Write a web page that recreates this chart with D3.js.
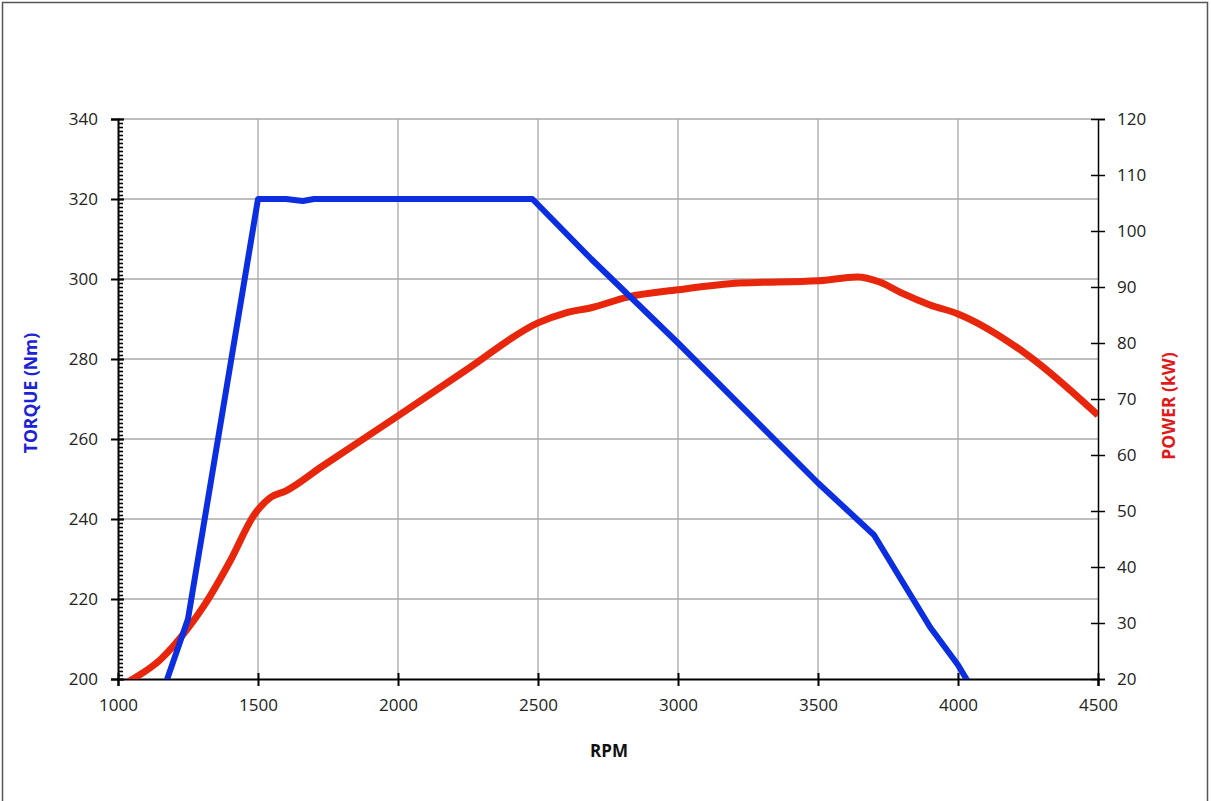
<!DOCTYPE html>
<html><head><meta charset="utf-8">
<script src="https://cdn.jsdelivr.net/npm/d3@7"></script>
<style>body{margin:0;background:#fff}svg{display:block}</style>
</head><body>
<svg id="c" width="1211" height="801"></svg>
<script>
const torqueRpm = [1150, 1250, 1500, 1600, 1660, 1700, 2000, 2480, 2690, 3000, 3500, 3700, 3900, 4000, 4030, 4060];
const torqueNm  = [194.8, 215, 320, 320, 319.5, 320, 320, 320, 305, 284, 249, 236, 213, 203.5, 200, 196.5];
const powerRpm = [1000, 1054, 1150, 1246, 1306, 1403, 1486, 1547, 1600, 1727, 2000, 2250, 2500, 2600, 2690, 2820, 3000, 3220, 3500, 3640, 3720, 3800, 3900, 4000, 4250, 4500];
const powerKw  = [18.4, 20, 23.4, 28.8, 33.0, 41.3, 49.3, 52.5, 53.6, 57.9, 67.0, 75.4, 83.6, 85.4, 86.3, 88.2, 89.5, 90.7, 91.1, 91.8, 90.9, 88.9, 86.8, 85.2, 77.8, 67.1];
const xTicks = [1000, 1500, 2000, 2500, 3000, 3500, 4000, 4500];
const yLeftTicks = [200, 220, 240, 260, 280, 300, 320, 340];
const yRightTicks = [20, 30, 40, 50, 60, 70, 80, 90, 100, 110, 120];

const svg = d3.select("#c");
const L = 118, R = 1098, T = 119, B = 679;
const x = d3.scaleLinear().domain([1000, 4500]).range([L, R]);
const yL = d3.scaleLinear().domain([200, 340]).range([B, T]);
const yR = d3.scaleLinear().domain([20, 120]).range([B, T]);
const font = "'Open Sans', 'Liberation Sans', sans-serif";

// outer frame
svg.append("rect").attr("x", 2.5).attr("y", 2.5).attr("width", 1205).attr("height", 805)
  .attr("fill", "none").attr("stroke", "#555").attr("stroke-width", 1.5);

// gridlines
const grid = svg.append("g").attr("stroke", "#a8a8a8").attr("stroke-width", 1.3);
xTicks.slice(1, -1).forEach(v => grid.append("line").attr("x1", x(v)).attr("x2", x(v)).attr("y1", T).attr("y2", B));
yLeftTicks.slice(1).forEach(v => grid.append("line").attr("x1", L).attr("x2", R).attr("y1", yL(v)).attr("y2", yL(v)));

// clip
svg.append("clipPath").attr("id", "clip").append("rect").attr("x", L).attr("y", T - 5).attr("width", R - L).attr("height", B - T + 5);

// axes
const gx = svg.append("g").attr("transform", `translate(0,${B})`)
  .call(d3.axisBottom(x).tickValues(xTicks).tickSize(7).tickPadding(13).tickFormat(d3.format("d")));
gx.select(".domain").attr("stroke-width", 2);
gx.selectAll(".tick line").attr("y1", -6).attr("y2", 7).attr("stroke-width", 2);

const gyMinor = svg.append("g").attr("transform", `translate(${L},0)`)
  .call(d3.axisRight(yL).tickValues(d3.range(200, 341, 1)).tickSize(5).tickFormat(""));
gyMinor.select(".domain").remove();
gyMinor.selectAll(".tick line").attr("stroke-width", 1.6);

const gyl = svg.append("g").attr("transform", `translate(${L},0)`)
  .call(d3.axisLeft(yL).tickValues(yLeftTicks).tickSize(7).tickPadding(13));
gyl.select(".domain").attr("stroke-width", 2);
gyl.selectAll(".tick line").attr("x1", 6).attr("stroke-width", 2);

const gyr = svg.append("g").attr("transform", `translate(${R},0)`)
  .call(d3.axisRight(yR).tickValues(yRightTicks).tickSize(7).tickPadding(12));
gyr.select(".domain").attr("stroke-width", 1.5);
gyr.selectAll(".tick line").attr("x1", -7).attr("stroke-width", 1.5);

svg.selectAll(".tick text").attr("font-family", font).attr("font-size", 17).attr("fill", "#222");
svg.selectAll(".domain").attr("stroke", "#000");
svg.selectAll(".tick line").attr("stroke", "#000");

// lines
const plot = svg.append("g").attr("clip-path", "url(#clip)");
const tData = torqueRpm.map((r, i) => [r, torqueNm[i]]);
const pData = powerRpm.map((r, i) => [r, powerKw[i]]);
plot.append("path").datum(pData)
  .attr("d", d3.line().x(d => x(d[0])).y(d => yR(d[1])).curve(d3.curveMonotoneX))
  .attr("fill", "none").attr("stroke", "#e8260c").attr("stroke-width", 7).attr("stroke-linejoin", "round");
plot.append("path").datum(tData)
  .attr("d", d3.line().x(d => x(d[0])).y(d => yL(d[1])))
  .attr("fill", "none").attr("stroke", "#0a2ee0").attr("stroke-width", 6).attr("stroke-linejoin", "round");

// titles
svg.append("text").attr("x", 609).attr("y", 757).attr("text-anchor", "middle")
  .attr("font-family", font).attr("font-weight", "bold").attr("font-size", 17).attr("fill", "#111").text("RPM");
svg.append("text").attr("transform", "translate(37,393) rotate(-90)").attr("text-anchor", "middle")
  .attr("font-family", font).attr("font-weight", "bold").attr("font-size", 17.5).attr("fill", "#1c22d6").text("TORQUE (Nm)");
svg.append("text").attr("transform", "translate(1175,406) rotate(-90)").attr("text-anchor", "middle")
  .attr("font-family", font).attr("font-weight", "bold").attr("font-size", 17.5).attr("fill", "#e01a1a").text("POWER (kW)");
</script>
</body></html>
